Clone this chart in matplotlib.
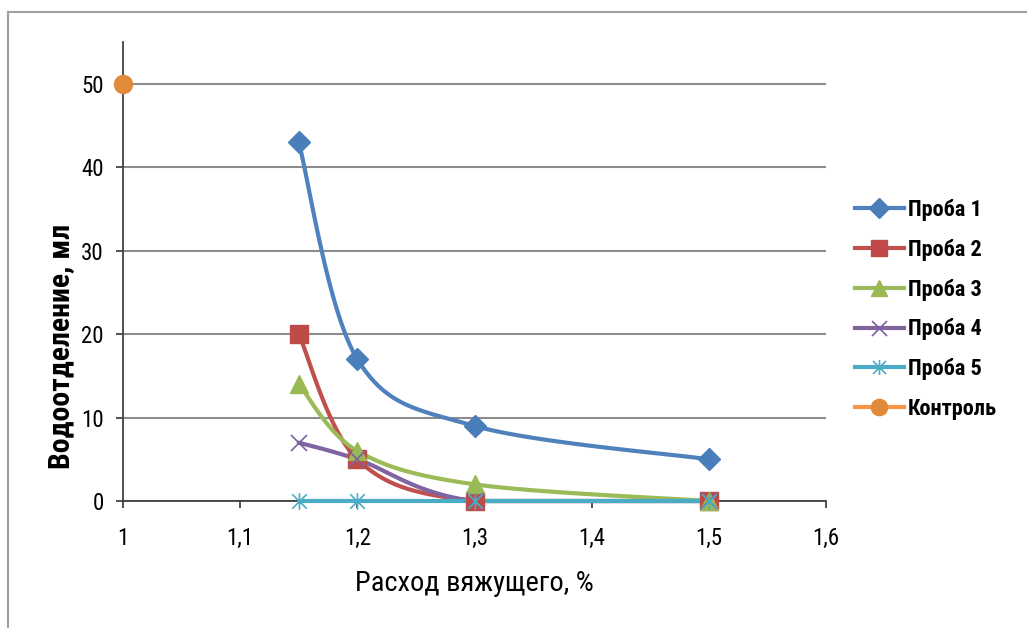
import numpy as np
import matplotlib
matplotlib.use("Agg")
import matplotlib.pyplot as plt
from matplotlib import font_manager
from matplotlib.path import Path
from matplotlib.lines import Line2D

# pick the narrowest sans family that is installed
installed = {f.name for f in font_manager.fontManager.ttflist}
base_font = 'DejaVu Sans'
for cand in ['Liberation Sans Narrow', 'DejaVu Sans Condensed', 'Roboto Condensed',
             'Open Sans Condensed', 'Liberation Sans']:
    if cand in installed:
        base_font = cand
        break
plt.rcParams['font.family'] = [base_font, 'DejaVu Sans']

# binder dosage, % and water separation, ml
x_main = [1.15, 1.2, 1.3, 1.5]
proba1 = [43, 17, 9, 5]
proba2 = [20, 5, 0, 0]
proba3 = [14, 6, 2, 0]
proba4 = [7, 5, 0, 0]
proba5 = [0, 0, 0, 0]
x_control = [1.0]
control = [50]

labels = ['Проба 1', 'Проба 2', 'Проба 3', 'Проба 4', 'Проба 5', 'Контроль']
x_ticks = [1.0, 1.1, 1.2, 1.3, 1.4, 1.5, 1.6]
x_tick_labels = ['1', '1,1', '1,2', '1,3', '1,4', '1,5', '1,6']
y_ticks = [0, 10, 20, 30, 40, 50]

line_colors = ['#4F81BD', '#C0504D', '#9BBB59', '#8064A2', '#4BACC6', '#F79646']
marker_colors = ['#4A7EBB', '#BE4B48', '#98B954', '#7D60A0', '#4BACC6', '#E08A3C']

# six-spoke asterisk marker (vertical bar + x)
star_path = Path([(0, -1), (0, 1), (-0.87, -0.87), (0.87, 0.87), (-0.87, 0.87), (0.87, -0.87)],
                 [Path.MOVETO, Path.LINETO] * 3)


def smooth(xs, ys, n=40):
    # bezier smoothing between points; control points kept inside each segment's y-range
    p = np.column_stack([xs, ys]).astype(float)
    if len(p) < 3:
        return p[:, 0], p[:, 1]
    ext = np.vstack([p[0], p, p[-1]])
    t = np.linspace(0, 1, n)[:, None]
    out = []
    for i in range(len(p) - 1):
        p0, p1 = ext[i + 1], ext[i + 2]
        c1 = p0 + (ext[i + 2] - ext[i]) / 6
        c2 = p1 - (ext[i + 3] - ext[i + 1]) / 6
        lo, hi = min(p0[1], p1[1]), max(p0[1], p1[1])
        c1[1] = np.clip(c1[1], lo, hi)
        c2[1] = np.clip(c2[1], lo, hi)
        seg = ((1 - t) ** 3) * p0 + 3 * ((1 - t) ** 2) * t * c1 + 3 * (1 - t) * t ** 2 * c2 + t ** 3 * p1
        out.append(seg if i == 0 else seg[1:])
    out = np.vstack(out)
    return out[:, 0], out[:, 1]


fig = plt.figure(figsize=(10.27, 6.28), dpi=100)
ax = fig.add_axes([0.1198, 0.2022, 0.6845, 0.7304])

series = [
    (x_main, proba1, 'D', 11, 'fill'),
    (x_main, proba2, 's', 13, 'fill'),
    (x_main, proba3, '^', 13, 'fill'),
    (x_main, proba4, 'x', 12, 'line'),
    (x_main, proba5, star_path, 12, 'line'),
    (x_control, control, 'o', 13, 'fill'),
]

handles = []
for (xs, ys, mk, ms, kind), lab, lc, mc in zip(series, labels, line_colors, marker_colors):
    sx, sy = smooth(xs, ys)
    ax.plot(sx, sy, color=lc, lw=3, solid_capstyle='round', zorder=3, clip_on=False)
    ax.plot(xs, ys, ls='none', marker=mk, ms=ms, color=mc, mec=mc,
            mew=1.2 if kind == 'line' else 1, zorder=4, clip_on=False)
    handles.append(Line2D([], [], color=lc, lw=3, marker=mk, ms=ms * 0.9, mfc=mc, mec=mc,
                          mew=1.2 if kind == 'line' else 1))

ax.set_xlim(1.0, 1.6)
ax.set_ylim(0, 55)
ax.set_xticks(x_ticks)
ax.set_xticklabels(x_tick_labels)
ax.set_yticks(y_ticks)
ax.tick_params(axis='both', labelsize=16.5, colors='#333333', labelcolor='black', length=5, width=1.2)
ax.tick_params(axis='x', pad=14)
ax.tick_params(axis='y', pad=9)
ax.yaxis.grid(True, color='#8C8C8C', lw=1.5)
ax.set_axisbelow(True)
for side in ['top', 'right']:
    ax.spines[side].set_visible(False)
for side in ['left', 'bottom']:
    ax.spines[side].set_color('#404040')
    ax.spines[side].set_linewidth(1.3)

ax.set_xlabel('Расход вяжущего, %', fontsize=20.5, labelpad=14)
ax.set_ylabel('Водоотделение, мл', fontsize=21.5, fontweight='bold')
ax.yaxis.set_label_coords(-0.068, 0.337)

fig.legend(handles, labels, loc='center left', bbox_to_anchor=(0.8237, 0.507), frameon=False,
           prop={'size': 16, 'weight': 'bold'}, handlelength=2.2, handletextpad=0.2,
           labelspacing=0.8, borderaxespad=0)

# outer chart border
fig.add_artist(Line2D([8 / 1027, 8 / 1027], [0, 1 - 12 / 628], color='#A0A0A0', lw=1.5))
fig.add_artist(Line2D([8 / 1027, 1], [1 - 12 / 628, 1 - 12 / 628], color='#A0A0A0', lw=1.5))

fig.savefig('out.png', dpi=100, facecolor='white')
